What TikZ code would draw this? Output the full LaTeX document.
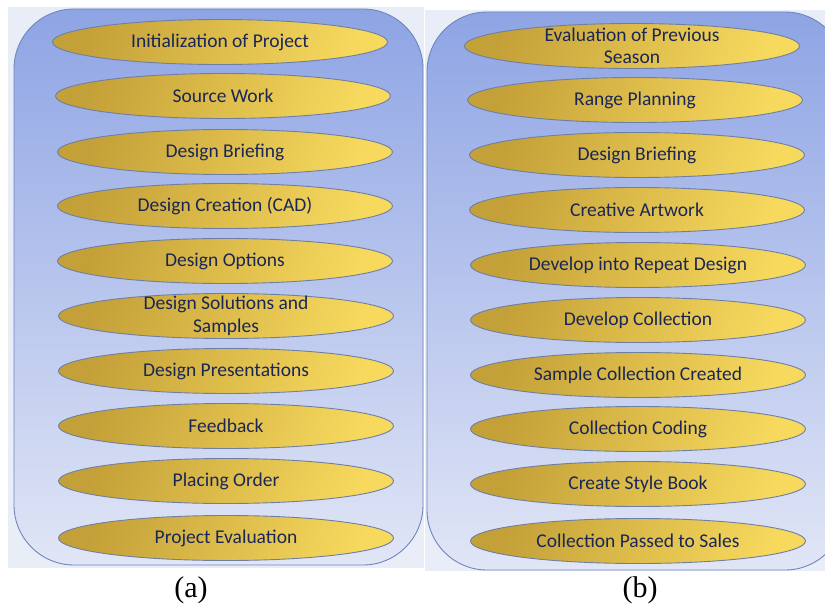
\documentclass[tikz,border=0pt]{standalone}
\usepackage{fontspec}
\setmainfont{Carlito}
\newfontfamily\capfont{Liberation Serif}
\usetikzlibrary{shapes.geometric}
\definecolor{bgpat}{HTML}{E8EDF8}
\definecolor{paneltop}{HTML}{8EA4E4}
\definecolor{panelbot}{HTML}{E1E6F6}
\definecolor{panelline}{HTML}{6F86BE}
\definecolor{golddark}{HTML}{C4A038}
\definecolor{goldlight}{HTML}{F7D95E}
\definecolor{pillline}{HTML}{6E7FA3}
\definecolor{txtcol}{HTML}{1A2755}
\tikzset{
  panel/.style={draw=panelline, line width=0.9pt, rounded corners=60pt,
    top color=paneltop, bottom color=panelbot},
  pill/.style={ellipse, draw=pillline, line width=0.9pt, minimum width=335pt,
    minimum height=45pt, inner sep=0pt,
    left color=golddark, right color=goldlight, shading angle=70},
  txt/.style={text=txtcol, font=\fontsize{19.5}{22.5}\selectfont, align=center, inner sep=0pt},
  caplabel/.style={font=\capfont\fontsize{30}{32}\selectfont, text=black, inner sep=0pt}
}
\begin{document}
\begin{tikzpicture}[x=1pt,y=-1pt]
\clip (0,0) rectangle (825,610);
\fill[white] (0,0) rectangle (825,610);
\fill[bgpat] (8,7) rectangle (423.5,568);
\fill[bgpat] (424.5,10) rectangle (825,571);
% panels
\path[panel] (14,9) rectangle (423,565);
\path[panel] (427,12) rectangle (845,570);
% left column
\node[pill] (a1) at (220,42) {};
\node[pill] (a2) at (223,96) {};
\node[pill] (a3) at (225,152) {};
\node[pill] (a4) at (225,206) {};
\node[pill] (a5) at (225,261) {};
\node[pill] (a6) at (226,316) {};
\node[pill] (a7) at (226,371) {};
\node[pill] (a8) at (226,426) {};
\node[pill] (a9) at (226,481) {};
\node[pill] (a10) at (226,538) {};
\node[txt] (ta1) at (a1) {Initialization of Project};
\node[txt] (ta2) at (a2) {Source Work};
\node[txt] (ta3) at (a3) {Design Briefing};
\node[txt] (ta4) at (a4) {Design Creation (CAD)};
\node[txt] (ta5) at (a5) {Design Options};
\node[txt] (ta6) at (a6) {Design Solutions and\\Samples};
\node[txt] (ta7) at (a7) {Design Presentations};
\node[txt] (ta8) at (a8) {Feedback};
\node[txt] (ta9) at (a9) {Placing Order};
\node[txt] (ta10) at (a10) {Project Evaluation};
% right column
\node[pill] (b1) at (632,46) {};
\node[pill] (b2) at (635,100) {};
\node[pill] (b3) at (637,155) {};
\node[pill] (b4) at (637,210) {};
\node[pill] (b5) at (638,265) {};
\node[pill] (b6) at (638,320) {};
\node[pill] (b7) at (638,375) {};
\node[pill] (b8) at (638,429) {};
\node[pill] (b9) at (638,484) {};
\node[pill] (b10) at (638,541) {};
\node[txt] (tb1) at (b1) {Evaluation of Previous\\Season};
\node[txt] (tb2) at (b2) {Range Planning};
\node[txt] (tb3) at (b3) {Design Briefing};
\node[txt] (tb4) at (b4) {Creative Artwork};
\node[txt] (tb5) at (b5) {Develop into Repeat Design};
\node[txt] (tb6) at (b6) {Develop Collection};
\node[txt] (tb7) at (b7) {Sample Collection Created};
\node[txt] (tb8) at (b8) {Collection Coding};
\node[txt] (tb9) at (b9) {Create Style Book};
\node[txt] (tb10) at (b10) {Collection Passed to Sales};
% captions
\node[caplabel] (capa) at (191,590) {(a)};
\node[caplabel] (capb) at (640,590) {(b)};
\end{tikzpicture}
\end{document}
